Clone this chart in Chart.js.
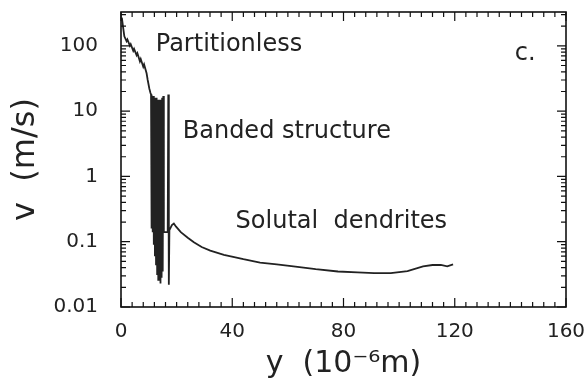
<!DOCTYPE html>
<html>
<head>
<meta charset="utf-8">
<script src="https://cdn.jsdelivr.net/npm/chart.js@4.4.1/dist/chart.umd.min.js"></script>
<style>
  html, body { margin: 0; padding: 0; background: #fff; }
</style>
</head>
<body>
<canvas id="chart" width="588" height="388"></canvas>
<script>
// partitionless growth: saw-tooth decay near the surface
const partitionlessY = [0.3, 0.7, 1.2, 2.0, 2.3, 3.2, 3.5, 4.4, 4.7, 5.6, 5.9, 6.8, 7.1, 8.0, 8.3, 9.2, 9.6, 10.2, 10.6];
const partitionlessV = [270, 200, 140, 118, 125, 100, 106, 84, 90, 72, 77, 58, 63, 48, 52, 38, 30, 22, 19];

// banded structure: velocity oscillations
const bandY = [10.8, 11.0, 11.2, 11.4, 11.6, 11.8, 12.0, 12.2, 12.4, 12.6, 12.8, 13.0, 13.2, 13.4, 13.6, 13.8,
  14.0, 14.2, 14.4, 14.6, 14.8, 15.0, 15.2, 15.4, 16.8, 17.0, 17.2];
const bandV = [18, 0.16, 17, 0.14, 17, 0.09, 16, 0.06, 16, 0.045, 16, 0.032, 15, 0.026, 15, 0.03,
  15, 0.023, 15, 0.028, 16, 0.035, 17, 0.14, 0.14, 18, 0.022];

// solutal dendrites
const dendriteY = [17.4, 18.3, 19.0, 19.8, 21.5, 24, 26.2, 29, 32.1, 37, 44, 50, 56, 62, 70, 78, 85, 91, 97, 103, 108.6, 112, 115, 117.3, 119.4];
const dendriteV = [0.15, 0.18, 0.19, 0.17, 0.14, 0.115, 0.098, 0.083, 0.073, 0.063, 0.054, 0.048, 0.045, 0.042, 0.038, 0.035, 0.034, 0.033, 0.033, 0.0355, 0.042, 0.044, 0.044, 0.042, 0.045];

const xTicks = [0, 40, 80, 120, 160];
const yTicks = [0.01, 0.1, 1, 10, 100];
const yTickLabels = ['0.01', '0.1', '1', '10', '100'];

const noteText = ['Partitionless', 'Banded structure', 'Solutal  dendrites', 'c.'];
const noteX = [12.5, 22.2, 41.2, 141.6];
const noteV = [105, 4.9, 0.2, 75];

const FONT = '"DejaVu Sans", "Liberation Sans", sans-serif';

const toPoints = ( ys, vs ) => ys.map( ( y, i ) => ( { x: y, y: vs[ i ] } ) );
const points = [
	...toPoints( partitionlessY, partitionlessV ),
	...toPoints( bandY, bandV ),
	...toPoints( dendriteY, dendriteV ),
];

// scales should not push the plot area in for their edge labels
const noPadding = ( scale ) => {
	scale.paddingTop = 0;
	scale.paddingBottom = 0;
	scale.paddingLeft = 0;
	scale.paddingRight = 0;
};

const frameTicks = {
	id: 'frameTicks',
	afterDatasetsDraw( chart ) {
		const { ctx, chartArea: a, scales } = chart;
		const xs = scales.x;
		const ys = scales.y;
		ctx.save();
		ctx.strokeStyle = '#111';
		ctx.lineWidth = 1.6;
		ctx.strokeRect( a.left, a.top, a.right - a.left, a.bottom - a.top );

		// inward ticks on all four sides
		ctx.lineWidth = 1.2;
		ctx.beginPath();
		for ( let v = 0; v <= 160; v += 4 ) {
			const px = xs.getPixelForValue( v );
			const len = v % 40 === 0 ? 9 : 5;
			ctx.moveTo( px, a.bottom );
			ctx.lineTo( px, a.bottom - len );
			ctx.moveTo( px, a.top );
			ctx.lineTo( px, a.top + len );
		}
		for ( let d = -2; d <= 2; d++ ) {
			for ( let k = 1; k <= 9; k++ ) {
				const v = k * Math.pow( 10, d );
				if ( v > ys.max ) {
					continue;
				}
				const py = ys.getPixelForValue( v );
				const len = k === 1 ? 9 : 5;
				ctx.moveTo( a.left, py );
				ctx.lineTo( a.left + len, py );
				ctx.moveTo( a.right, py );
				ctx.lineTo( a.right - len, py );
			}
		}
		ctx.stroke();

		ctx.fillStyle = '#222';
		ctx.font = '24px ' + FONT;
		ctx.textAlign = 'left';
		ctx.textBaseline = 'middle';
		noteText.forEach( ( t, i ) => {
			ctx.fillText( t, xs.getPixelForValue( noteX[ i ] ), ys.getPixelForValue( noteV[ i ] ) );
		} );
		ctx.restore();
	},
};

new Chart( document.getElementById( 'chart' ), {
	type: 'line',
	data: {
		datasets: [
			{
				data: points,
				borderColor: '#222',
				borderWidth: 1.8,
				pointRadius: 0,
				tension: 0,
				fill: false,
			},
		],
	},
	options: {
		responsive: false,
		animation: false,
		layout: {
			padding: { top: 12, right: 22, left: 0, bottom: 0 },
		},
		plugins: {
			legend: { display: false },
			tooltip: { enabled: false },
		},
		scales: {
			x: {
				type: 'linear',
				min: 0,
				max: 160,
				afterBuildTicks( scale ) {
					scale.ticks = xTicks.map( ( v ) => ( { value: v } ) );
				},
				afterFit( scale ) {
					scale.height = 81;
					noPadding( scale );
				},
				ticks: {
					color: '#222',
					font: { family: FONT, size: 20 },
					padding: 5,
					maxRotation: 0,
					autoSkip: false,
				},
				grid: { display: false },
				border: { display: false },
				title: {
					display: true,
					text: 'y  (10⁻⁶m)',
					color: '#222',
					font: { family: FONT, size: 30 },
					padding: { top: 0, bottom: 6 },
				},
			},
			y: {
				type: 'logarithmic',
				min: 0.01,
				max: 330,
				afterBuildTicks( scale ) {
					scale.ticks = yTicks.map( ( v ) => ( { value: v } ) );
				},
				afterFit( scale ) {
					scale.width = 121;
					noPadding( scale );
				},
				ticks: {
					color: '#222',
					font: { family: FONT, size: 20 },
					padding: 15,
					autoSkip: false,
					callback( val ) {
						const i = yTicks.indexOf( val );
						return i >= 0 ? yTickLabels[ i ] : '';
					},
				},
				grid: { display: false },
				border: { display: false },
				title: {
					display: true,
					text: 'v  (m/s)',
					color: '#222',
					font: { family: FONT, size: 32 },
					padding: { top: 6, bottom: 0 },
				},
			},
		},
	},
	plugins: [ frameTicks ],
} );
</script>
</body>
</html>
